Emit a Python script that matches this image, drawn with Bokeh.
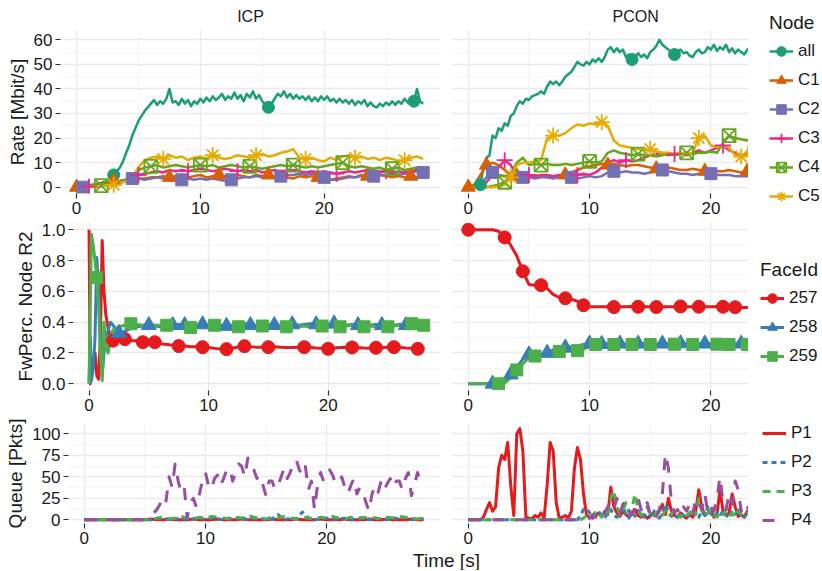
import numpy as np
from bokeh.plotting import figure
from bokeh.layouts import column, row
from bokeh.models import (Legend, LegendItem, SingleIntervalTicker,
                          NumeralTickFormatter, Label, Range1d)
from bokeh.embed import file_html
from bokeh.resources import INLINE
from bokeh.core.validation import silence
from bokeh.core.validation.warnings import MISSING_RENDERERS

silence(MISSING_RENDERERS, True)

FONT = "Liberation Sans"
TXT = "#1a1a1a"

# ---------------------------------------------------------------- data
facets = ["ICP", "PCON"]
nodes = ["all", "C1", "C2", "C3", "C4", "C5"]
faces = ["257", "258", "259"]
ports = ["P1", "P2", "P3", "P4"]

t_icp = np.arange(0, 28.01, 0.5)        # 57 samples
t_pcon = np.arange(0, 23.51, 0.5)       # 48 samples
t_icp_f = np.arange(0, 28.01, 0.25)     # 113 samples
t_pcon_f = np.arange(0, 23.51, 0.25)    # 95 samples

# Rate [Mbit/s] - ICP
rate_icp_all = [0, 0.1, 0.3, 0.5, 0.8, 1.0, 1.2, 1.5, 1.8, 2.2, 2.5, 3.5, 5,
                6.5, 8, 10.5, 14, 17, 21, 24, 27, 29, 31, 32.5,
                34, 35.5, 33.5, 35, 34, 36, 40, 34.5, 35, 33.5, 36, 34, 35.5, 33, 35, 34,
                36, 34.5, 36.5, 35, 37, 35.5, 36.5, 38, 35.5, 37, 36, 38.5, 36, 37.5, 35, 38,
                36.5, 39, 36, 37.5, 35, 33.5, 32.5, 34, 36, 38, 37, 39, 36.5, 38, 36, 37.5,
                36, 37, 35.5, 37, 35, 36.5, 35, 37, 35.5, 37, 35, 36, 34.5, 36, 34.5, 35.5,
                34, 35.5, 33.5, 35, 34, 35.5, 33, 34.5, 33, 32.5, 34, 33, 34.5, 33.5, 35, 33.5,
                35, 34, 36, 34.5, 36, 35, 40, 35, 34]
rate_icp_c1 = [0, 0.3, 0.5, 1, 1.5, 2, 2.5, 2.5, 3, 3, 3.5, 3.5, 4, 4, 4.5, 4, 4.5, 5, 4, 4.5,
               5, 4, 4.5, 5, 4.5, 4, 5, 4.5, 4, 5, 4.5, 5, 4, 4.5, 4, 3.5, 4.5, 4, 4.5, 4,
               3.5, 3, 3.5, 4, 4.5, 4, 5, 4.5, 4, 5, 4.5, 4, 4.5, 4, 4.5, 4, 4.5]
rate_icp_c2 = [0, 0, 0.2, 0.5, 1, 1.5, 2, 2.5, 3, 3.5, 3.5, 3, 3.5, 4, 3.5, 3, 3.5, 3, 3.5, 3,
               3.5, 3, 3.5, 3, 2.5, 3, 3.5, 4, 4, 4.5, 4, 4.5, 4, 4.5, 5, 5, 5.5, 5, 5.5, 5,
               4, 3, 3, 3.5, 4, 4, 4.5, 4, 4.5, 5, 5, 5.5, 5, 5.5, 6, 6.5, 6]
rate_icp_c3 = [0, 0, 0.2, 0.3, 0.5, 1, 1.5, 2, 3, 4, 5, 5.5, 6, 6.5, 6, 7, 6.5, 7, 6.5, 7,
               7.5, 7, 6.5, 7, 7.5, 7, 6.5, 7, 6.5, 7, 6, 6.5, 7, 6, 6.5, 7, 6.5, 6, 6.5, 6,
               6.5, 6, 5.5, 6, 6.5, 6, 6.5, 7, 6.5, 6, 6.5, 6, 6.5, 6, 6.5, 7, 6.5]
rate_icp_c4 = [0, 0, 0.2, 0.4, 0.6, 1, 1.5, 2, 3, 5, 7, 8, 8.5, 9, 8, 8.5, 9, 8.5, 8, 8.5,
               9, 8.5, 9, 8, 8.5, 9, 8.5, 8, 8.5, 8, 7.5, 8, 8.5, 9, 8.5, 9, 8.5, 8, 8.5, 8,
               8.5, 9, 9.5, 10, 8.5, 8, 8.5, 8, 7.5, 8, 7, 7.5, 8, 7, 7.5, 8, 7.5]
rate_icp_c5 = [0, 0, 0.2, 0.3, 0.5, 0.8, 1, 1.5, 2.5, 4, 8, 11, 12, 12.5, 11.5, 13, 12, 12.5, 11, 12,
               12.5, 11.5, 13, 12, 11.5, 12, 13, 12.5, 12, 13, 13.5, 12.5, 13, 14, 14.5, 15.5, 12, 11.5, 12, 11,
               10.5, 12, 11, 12.5, 13, 12, 12.5, 11.5, 12, 11, 12, 11.5, 10.5, 11, 12, 12.5, 11.5]

# Rate [Mbit/s] - PCON
rate_pcon_all = [0, 0.1, 0.3, 0.6, 1, 8, 12, 13, 21, 20, 24, 23, 26, 25, 29, 30, 33, 35, 34, 36,
                 35.5, 37, 37.5, 38, 39, 38, 41, 43, 42, 43, 41.5, 43, 45, 46, 47, 49, 51, 50, 49.5, 51,
                 50, 52, 51, 52.5, 51, 53, 56, 57, 55, 56.5, 55, 56, 53, 54, 52, 53, 54.5, 53, 54, 52.5,
                 55, 56, 57.5, 60, 58, 57, 56, 55, 54, 55.5, 56, 54.5, 55, 53.5, 53, 55, 56, 54.5, 55, 57,
                 56, 58, 55.5, 57, 56, 58, 55, 56.5, 54.5, 56, 55, 54, 56, 57, 59]
rate_pcon_c1 = [0, 1, 5, 9, 10, 9, 7, 5, 4.5, 5, 4.5, 4, 4.5, 4, 4.5, 4, 5, 6, 7, 8,
                8.5, 9, 9.5, 9, 9.5, 9, 8.5, 9, 9, 8.5, 8, 7.5, 7.5, 8, 7.5, 7, 7, 7.5, 7, 6.5,
                7, 6.5, 6.5, 7, 6.5, 6, 6.5, 6]
rate_pcon_c2 = [0, 0, 1, 4, 6, 5, 4.5, 4, 4, 4, 4, 3.5, 4, 4, 3.5, 4, 4, 4, 3.5, 4,
                4.5, 4, 4.5, 6, 6.5, 6, 6.5, 6, 6, 5.5, 6, 6.5, 7, 6.5, 6, 5.5, 5.5, 5, 5.5, 6,
                5.5, 5, 5, 5, 4.5, 4.5, 4.5, 4]
rate_pcon_c3 = [0, 0, 0.5, 2, 5, 8, 11, 9, 5, 4.5, 5, 4.5, 5, 5, 4.5, 5, 5, 4.5, 5, 5.5,
                5, 6, 8, 10, 11, 10, 11, 10.5, 11, 12, 13, 13.5, 14, 13, 13.5, 14, 13, 14, 15, 14,
                15, 16, 17, 15, 14, 13, 13.5, 12]
rate_pcon_c4 = [0, 0, 0, 0, 0.5, 1, 2, 5, 10, 12, 9, 9.5, 9, 9.5, 9, 9, 9.5, 9, 9.5, 10,
                10.5, 10, 10.5, 14, 15, 14, 13.5, 13, 13.5, 13, 13, 12.5, 13, 13.5, 13, 13.5, 14, 13.5, 14, 14,
                14.5, 14, 18, 21, 20, 19.5, 19, 19.5]
rate_pcon_c5 = [0, 0, 0, 0, 0, 0.5, 1, 4, 9, 10, 10, 10.5, 11, 20, 21, 21, 22, 24, 25.5, 25,
                26, 25.5, 26.5, 25, 19, 17, 16.5, 16, 15.5, 15, 15.5, 14.5, 14, 14, 13.5, 14, 13.5, 14, 20, 21,
                17, 16.5, 17, 16, 13, 12.5, 13, 28]

# marker times (s) for each node series
marks_icp = [[3, 15.5, 27.25],
             [0, 3, 7.5, 11.5, 15.5, 19.5, 23.5, 27],
             [0.5, 4.5, 8.5, 12.5, 16.5, 20, 24, 28],
             [1, 5, 9, 13, 17, 21, 25],
             [2, 6, 10, 14, 17.5, 21.5, 25.5],
             [3, 7, 11, 14.5, 18.5, 22.5, 26.5]]
marks_pcon = [[1, 13.5, 17],
              [0, 1.5, 4, 8, 11.5, 15.5, 19.5, 23],
              [2, 4.5, 8.5, 12, 16, 20],
              [3, 5, 9, 13, 17, 21],
              [3, 6, 10, 14, 18, 21.5],
              [3.5, 7, 11, 15, 19, 22.5]]

# FwPerc. Node R2
t_fw_icp = [0, 0.1, 0.2, 0.35, 0.5, 0.65, 0.8, 0.95, 1.1, 1.25, 1.4, 1.6, 1.8] + list(np.arange(2, 28.01, 0.5))
fw_icp_257 = [1.0, 0.0, 0.15, 0.1, 0.2, 0.05, 0.03, 0.3, 0.93, 0.6, 0.45, 0.36, 0.3,
              0.28, 0.3, 0.29, 0.28, 0.28, 0.27, 0.27, 0.27, 0.26, 0.255, 0.25, 0.245, 0.245, 0.24,
              0.24, 0.238, 0.235, 0.23, 0.225, 0.225, 0.23, 0.24, 0.244, 0.24, 0.238, 0.238, 0.238,
              0.24, 0.238, 0.235, 0.235, 0.238, 0.238, 0.235, 0.232, 0.23, 0.227, 0.232, 0.235, 0.238,
              0.236, 0.234, 0.232, 0.231, 0.234, 0.236, 0.238, 0.238, 0.236, 0.232, 0.23, 0.227, 0.227]
fw_icp_258 = [0.0, 0.3, 0.02, 0.1, 0.3, 0.82, 0.6, 0.3, 0.05, 0.2, 0.3, 0.35, 0.4,
              0.38, 0.33, 0.34, 0.36, 0.37, 0.375, 0.38, 0.375, 0.37, 0.38, 0.38, 0.385, 0.38, 0.375,
              0.38, 0.385, 0.38, 0.385, 0.38, 0.375, 0.38, 0.385, 0.39, 0.38, 0.375, 0.38, 0.385,
              0.38, 0.375, 0.38, 0.385, 0.38, 0.385, 0.39, 0.385, 0.38, 0.385, 0.39, 0.385, 0.38,
              0.385, 0.38, 0.375, 0.38, 0.385, 0.38, 0.375, 0.38, 0.385, 0.38, 0.38, 0.385, 0.38]
fw_icp_259 = [0.0, 0.5, 0.97, 0.9, 0.8, 0.69, 0.5, 0.2, 0.02, 0.4, 0.25, 0.2, 0.3,
              0.35, 0.37, 0.38, 0.39, 0.385, 0.38, 0.375, 0.38, 0.38, 0.38, 0.375, 0.37, 0.37, 0.365,
              0.37, 0.375, 0.38, 0.38, 0.38, 0.375, 0.37, 0.37, 0.375, 0.38, 0.38, 0.375, 0.37,
              0.365, 0.36, 0.37, 0.375, 0.37, 0.375, 0.37, 0.37, 0.375, 0.37, 0.37, 0.37, 0.375,
              0.38, 0.375, 0.37, 0.375, 0.37, 0.37, 0.37, 0.375, 0.38, 0.385, 0.39, 0.385, 0.38]
fw_pcon_257 = [1.0, 1.0, 1.0, 1.0, 1.0, 0.99, 0.95, 0.9, 0.83, 0.73, 0.645, 0.64, 0.64, 0.62, 0.58,
               0.56, 0.555, 0.55, 0.535, 0.51, 0.5, 0.5, 0.5, 0.5, 0.498, 0.5, 0.5, 0.502, 0.5, 0.5,
               0.5, 0.498, 0.5, 0.5, 0.5, 0.502, 0.5, 0.5, 0.5, 0.5, 0.5, 0.502, 0.5, 0.498, 0.497,
               0.495, 0.495, 0.495]
fw_pcon_258 = [0, 0, 0, 0, 0, 0.005, 0.02, 0.06, 0.11, 0.16, 0.19, 0.19, 0.19, 0.2, 0.22,
               0.23, 0.235, 0.24, 0.245, 0.255, 0.26, 0.26, 0.258, 0.26, 0.262, 0.26, 0.258, 0.26, 0.26, 0.262,
               0.26, 0.258, 0.26, 0.26, 0.26, 0.262, 0.26, 0.258, 0.26, 0.26, 0.26, 0.258, 0.26, 0.262, 0.26,
               0.26, 0.26, 0.26]
fw_pcon_259 = [0, 0, 0, 0, 0, 0, 0.005, 0.04, 0.09, 0.13, 0.17, 0.18, 0.185, 0.19, 0.205,
               0.21, 0.212, 0.215, 0.215, 0.225, 0.245, 0.255, 0.255, 0.257, 0.255, 0.253, 0.255, 0.255, 0.257, 0.255,
               0.255, 0.253, 0.255, 0.255, 0.257, 0.255, 0.255, 0.255, 0.253, 0.255, 0.255, 0.257, 0.255, 0.255, 0.255,
               0.255, 0.255, 0.255]
fw_marks_icp = [[2, 3, 4.5, 5.5, 7.5, 9.5, 11.5, 13, 15, 18, 20, 22, 24, 25.5, 27.5],
                [2.5, 5, 7, 8, 9.5, 11.5, 13.5, 15.5, 17, 19, 20.5, 22.5, 24.5, 26.5],
                [0.65, 3.5, 6.5, 8.5, 10.5, 12.5, 14.5, 16.5, 19.5, 21, 23, 25, 27, 28]]
fw_marks_pcon = [[0, 3, 4.5, 6, 8, 9.5, 12, 14, 15.5, 17.5, 19, 21, 22],
                 [2, 3.5, 5, 6.5, 8, 10, 11, 12.5, 14, 16, 17.5, 19.5, 22.5],
                 [2.5, 4, 5.5, 7.5, 9, 10.5, 12, 13.5, 15, 17, 18.5, 20.5, 21.5, 23]]

# Queue [Pkts]
q_icp_p1 = [0, 0, 0, 0, 0, 0, 0, 0, 0, 0, 0, 1, 0, 0, 1, 0, 0, 0, 1, 0,
            0, 0, 1, 0, 0, 0, 1, 0, 0, 0, 0, 1, 0, 0, 0, 1, 0, 0, 0, 1,
            0, 0, 0, 1, 0, 0, 0, 1, 0, 0, 1, 0, 0, 0, 1, 0, 0]
q_icp_p2 = [0, 0, 0, 0, 0, 0, 0, 0, 0, 0, 0, 0, 1, 2, 0, 1, 2, 0, 1, 3,
            0, 2, 1, 0, 2, 1, 3, 0, 1, 2, 0, 1, 6, 0, 2, 1, 9, 2, 0, 1,
            2, 0, 1, 2, 0, 1, 3, 0, 2, 1, 0, 2, 1, 3, 0, 2, 1]
q_icp_p3 = [0, 0, 0, 0, 0, 0, 0, 0, 0, 0, 0, 0, 2, 3, 1, 2, 4, 2, 1, 3,
            2, 4, 3, 2, 1, 3, 2, 5, 3, 2, 1, 3, 2, 4, 2, 1, 3, 2, 1, 3,
            2, 4, 2, 1, 3, 2, 2, 4, 2, 1, 3, 2, 4, 3, 2, 1, 2]
q_icp_p4 = [0, 0, 0, 0, 0, 0, 0, 0, 0, 0, 0, 0, 0, 0, 0, 0, 0, 0, 0, 0,
            1, 2, 5, 8, 12, 18, 28, 22, 50, 38, 65, 45, 32, 38, 2, 20, 25, 15, 30, 45,
            55, 40, 35, 48, 52, 40, 48, 58, 60, 45, 55, 65, 62, 50, 72, 60, 58, 48, 52, 40,
            28, 45, 45, 35, 40, 50, 60, 48, 55, 65, 70, 58, 52, 62, 35, 45, 12, 40, 55, 45,
            50, 58, 52, 42, 42, 50, 38, 30, 40, 48, 30, 38, 32, 20, 10, 30, 40, 32, 45, 35,
            42, 48, 38, 45, 45, 35, 48, 55, 28, 40, 55, 45, 45]
q_pcon_p1 = [0, 0, 0, 0, 0, 3, 12, 20, 10, 15, 60, 75, 70, 90, 40, 5, 100, 106, 80, 3,
             2, 1, 5, 3, 8, 2, 40, 90, 80, 20, 2, 3, 5, 2, 10, 60, 84, 70, 30, 5,
             3, 2, 5, 8, 4, 10, 6, 38, 15, 8, 4, 10, 6, 3, 8, 12, 5, 3, 6, 2,
             4, 8, 5, 10, 18, 6, 25, 10, 5, 3, 8, 4, 2, 6, 3, 10, 35, 15, 5, 8,
             12, 3, 6, 35, 10, 5, 8, 30, 15, 4, 6, 3, 10, 5, 8]
q_pcon_p2 = [0, 0, 0, 0, 0, 0, 0, 0, 0, 0, 0, 0, 0, 0, 0, 0, 0, 0, 0, 0,
             0, 0, 0, 0, 0, 0, 0, 0, 0, 0, 0, 0, 0, 0, 0, 0, 0,
             5, 12, 13, 8, 3, 6, 10, 4, 2, 8, 12, 5, 3, 7, 15, 6, 2, 9, 4, 11,
             6, 3, 8, 5, 12, 4, 2, 7, 18, 10, 4, 6, 3, 9, 5, 2, 8, 12, 6, 3,
             10, 5, 15, 7, 3, 8, 4, 11, 6, 2, 9, 5, 14, 6, 3, 8, 20, 10]
q_pcon_p3 = [0, 0, 0, 0, 0, 0, 0, 0, 0, 0, 0, 0, 0, 0, 0, 0, 0, 0, 0, 0,
             0, 0, 0, 0, 0, 0, 0, 0, 0, 0, 0, 0, 0, 0, 0, 0, 0, 0,
             2, 5, 8, 4, 10, 6, 3, 12, 8, 25, 34, 15, 6, 10, 20, 8, 14, 30, 12, 5,
             9, 15, 6, 3, 8, 12, 5, 10, 4, 7, 12, 6, 3, 9, 5, 8, 14, 6, 25, 10,
             4, 8, 12, 5, 3, 9, 6, 12, 4, 8, 3, 10, 6, 4, 8, 5, 3]
q_pcon_p4 = [0, 0, 0, 0, 0, 0, 0, 0, 0, 0, 0, 0, 0, 0, 0, 0, 0, 0, 0, 0,
             0, 0, 0, 0, 0, 0, 0, 0, 0, 0, 0, 0, 0, 0, 0, 0, 0, 0, 0, 0,
             2, 6, 3, 10, 5, 8, 15, 20, 12, 25, 8, 18, 22, 10, 6, 15, 25, 12, 8, 20,
             6, 10, 4, 12, 30, 77, 60, 20, 8, 12, 5, 15, 10, 18, 6, 25, 20, 12, 30, 8,
             15, 10, 25, 50, 20, 12, 30, 18, 45, 35, 10, 20, 15, 8, 12]

assert len(rate_icp_all) == len(t_icp_f), len(rate_icp_all)
assert len(q_icp_p4) == len(t_icp_f), len(q_icp_p4)
assert len(rate_pcon_all) == len(t_pcon_f), len(rate_pcon_all)
for arr in [rate_icp_c1, rate_icp_c2, rate_icp_c3, rate_icp_c4, rate_icp_c5, q_icp_p1, q_icp_p2, q_icp_p3]:
    assert len(arr) == len(t_icp), len(arr)
for arr in [rate_pcon_c1, rate_pcon_c2, rate_pcon_c3, rate_pcon_c4, rate_pcon_c5,
            fw_pcon_257, fw_pcon_258, fw_pcon_259]:
    assert len(arr) == len(t_pcon), len(arr)
for arr in [fw_icp_257, fw_icp_258, fw_icp_259]:
    assert len(arr) == len(t_fw_icp), len(arr)
for arr in [q_pcon_p1, q_pcon_p2, q_pcon_p3, q_pcon_p4]:
    assert len(arr) == len(t_pcon_f), len(arr)

# ---------------------------------------------------------------- style
node_colors = ["#1B9E77", "#D95F02", "#7570B3", "#E7298A", "#66A61E", "#E6AB02"]
node_markers = ["circle", "triangle", "square", "cross", "square_x", "asterisk"]
node_sizes = [12, 14, 12, 16, 13, 16]
set1 = ["#E41A1C", "#377EB8", "#4DAF4A", "#984EA3"]
face_markers = ["circle", "triangle", "square"]
face_sizes = [13, 15, 12]
port_dashes = ["solid", "5 4", "8 6", "12 12"]
HOLLOW = ("cross", "square_x", "asterisk")

X_ICP = (-1.3, 29.4)
X_PCON = (-1.3, 23.1)


def base_fig(width, height, xr, yr, left, right, top, bottom):
    p = figure(width=width, height=height, x_range=Range1d(*xr), y_range=Range1d(*yr),
               output_backend="svg", toolbar_location=None,
               min_border_left=left, min_border_right=right,
               min_border_top=top, min_border_bottom=bottom)
    p.outline_line_color = None
    p.border_fill_color = "white"
    p.background_fill_color = "white"
    return p


def style(p, yint, ylabel=None, yfmt=None):
    xt = SingleIntervalTicker(interval=10, num_minor_ticks=2)
    yt = SingleIntervalTicker(interval=yint, num_minor_ticks=2)
    p.xaxis.ticker = xt
    p.xgrid.ticker = xt
    p.yaxis.ticker = yt
    p.ygrid.ticker = yt
    for ax in list(p.xaxis) + list(p.yaxis):
        ax.axis_line_color = None
        ax.major_tick_line_color = "#333333"
        ax.major_tick_line_width = 1.2
        ax.major_tick_out = 5
        ax.major_tick_in = 0
        ax.minor_tick_line_color = None
        ax.major_label_text_font = FONT
        ax.major_label_text_font_size = "17px"
        ax.major_label_text_color = TXT
        ax.major_label_standoff = 3
    for g in list(p.xgrid) + list(p.ygrid):
        g.grid_line_color = "#EBEBEB"
        g.grid_line_width = 1.3
        g.minor_grid_line_color = "#F4F4F4"
        g.minor_grid_line_width = 0.8
    if yfmt is not None:
        p.yaxis.formatter = yfmt
    if ylabel:
        p.yaxis.axis_label = ylabel
        p.yaxis.axis_label_text_font = FONT
        p.yaxis.axis_label_text_font_size = "19px"
        p.yaxis.axis_label_text_font_style = "normal"
        p.yaxis.axis_label_text_color = TXT
        p.yaxis.axis_label_standoff = 3
    else:
        p.yaxis.visible = False


def facet_title(p, text, align, offset=0):
    p.title.text = text
    p.title.align = align
    p.title.offset = offset
    p.title.text_font = FONT
    p.title.text_font_size = "16px"
    p.title.text_font_style = "normal"
    p.title.text_color = TXT
    p.title.standoff = 11


def draw_marked(p, ts, ys, marks, colors, markers, sizes, lw, visible=True):
    lines, scats = [], []
    for t, y, c in zip(ts, ys, colors):
        lines.append(p.line(np.asarray(t, dtype=float), y, line_color=c, line_width=lw,
                            line_join="round", visible=visible))
    for t, y, mk, c, m, s in zip(ts, ys, marks, colors, markers, sizes):
        tt = np.asarray(t, dtype=float)
        yy = np.asarray(y, dtype=float)
        idx = [int(np.argmin(np.abs(tt - v))) for v in mk]
        hollow = m in HOLLOW
        scats.append(p.scatter(tt[idx], yy[idx], marker=m, size=s, line_color=c,
                               fill_color=None if hollow else c,
                               line_width=1.8 if hollow else 1, visible=visible))
    return lines, scats


def make_legend(items, loc, title=None):
    lg = Legend(items=items, location=loc)
    lg.padding = 0
    lg.margin = 0
    lg.border_line_color = None
    lg.background_fill_alpha = 0
    lg.inactive_fill_alpha = 0
    lg.glyph_width = 24
    lg.glyph_height = 26
    lg.label_height = 26
    lg.spacing = 3
    lg.label_standoff = 5
    lg.label_text_font = FONT
    lg.label_text_font_size = "17px"
    lg.label_text_color = TXT
    if title:
        lg.title = title
        lg.title_text_font = FONT
        lg.title_text_font_size = "19px"
        lg.title_text_font_style = "normal"
        lg.title_text_color = TXT
        lg.title_standoff = 4
    return lg


rate_icp = [rate_icp_all, rate_icp_c1, rate_icp_c2, rate_icp_c3, rate_icp_c4, rate_icp_c5]
rate_pcon = [rate_pcon_all, rate_pcon_c1, rate_pcon_c2, rate_pcon_c3, rate_pcon_c4, rate_pcon_c5]
t_rate_icp = [t_icp_f, t_icp, t_icp, t_icp, t_icp, t_icp]
t_rate_pcon = [t_pcon_f, t_pcon, t_pcon, t_pcon, t_pcon, t_pcon]
fw_icp = [fw_icp_257, fw_icp_258, fw_icp_259]
fw_pcon = [fw_pcon_257, fw_pcon_258, fw_pcon_259]
q_icp = [q_icp_p1, q_icp_p2, q_icp_p3, q_icp_p4]
t_q_icp = [t_icp, t_icp, t_icp, t_icp_f]
q_pcon = [q_pcon_p1, q_pcon_p2, q_pcon_p3, q_pcon_p4]

# ---------------------------------------------------------------- row 1: Rate
r1a = base_fig(444, 222, X_ICP, (-2.57, 63.79), 60, 4, 30, 29)
style(r1a, 10, "Rate [Mbit/s]")
facet_title(r1a, facets[0], "center")
draw_marked(r1a, t_rate_icp, rate_icp, marks_icp, node_colors, node_markers, node_sizes, 2.5)

r1b = base_fig(304, 222, X_PCON, (-2.57, 63.79), 8, 0, 30, 29)
style(r1b, 10)
facet_title(r1b, facets[1], "left", 160)
draw_marked(r1b, t_rate_pcon, rate_pcon, marks_pcon, node_colors, node_markers, node_sizes, 2.5)

# ---------------------------------------------------------------- row 2: FwPerc
r2a = base_fig(444, 195, X_ICP, (-0.0435, 1.047), 73, 4, 0, 27)
style(r2a, 0.2, "FwPerc. Node R2", NumeralTickFormatter(format="0.0"))
draw_marked(r2a, [t_fw_icp] * 3, fw_icp, fw_marks_icp, set1[:3], face_markers, face_sizes, 3)

r2b = base_fig(304, 195, X_PCON, (-0.0435, 1.047), 8, 0, 0, 27)
style(r2b, 0.2)
draw_marked(r2b, [t_pcon] * 3, fw_pcon, fw_marks_pcon, set1[:3], face_markers, face_sizes, 3)

# ---------------------------------------------------------------- row 3: Queue
r3a = base_fig(444, 133, X_ICP, (-4.3, 112), 68, 4, 6, 27)
style(r3a, 25, "Queue [Pkts]")
for t, y, c, d in zip(t_q_icp, q_icp, set1, port_dashes):
    r3a.line(t, y, line_color=c, line_width=3, line_dash=d, line_join="round")

r3b = base_fig(304, 133, X_PCON, (-4.3, 112), 8, 0, 6, 27)
style(r3b, 25)
for y, c, d in zip(q_pcon, set1, port_dashes):
    r3b.line(t_pcon_f, y, line_color=c, line_width=3, line_dash=d, line_join="round")

# ---------------------------------------------------------------- shared x title
tf = figure(width=748, height=20, x_range=Range1d(0, 748), y_range=Range1d(0, 20),
            output_backend="svg", toolbar_location=None, x_axis_type=None, y_axis_type=None,
            min_border=0)
tf.outline_line_color = None
tf.add_layout(Label(x=446, y=10, text="Time [s]", text_align="center", text_baseline="alphabetic",
                    text_font=FONT, text_font_size="19px", text_color=TXT))

# ---------------------------------------------------------------- legend column
# hidden copies of the PCON series supply the legend keys
lf = figure(width=72, height=570, x_range=Range1d(*X_PCON), y_range=Range1d(0, 1),
            output_backend="svg", toolbar_location=None, x_axis_type=None, y_axis_type=None,
            min_border=0)
lf.outline_line_color = None
lf.border_fill_color = "white"
lf.background_fill_color = "white"
ln1, sc1 = draw_marked(lf, t_rate_pcon, rate_pcon, marks_pcon, node_colors, node_markers,
                       node_sizes, 2.5, visible=False)
ln2, sc2 = draw_marked(lf, [t_pcon] * 3, fw_pcon, fw_marks_pcon, set1[:3], face_markers,
                       face_sizes, 3, visible=False)
ln3 = [lf.line(t_pcon_f, y, line_color=c, line_width=3, line_dash=d, visible=False)
       for y, c, d in zip(q_pcon, set1, port_dashes)]

lf.add_layout(make_legend([LegendItem(label=n, renderers=[l, s]) for n, l, s in zip(nodes, ln1, sc1)],
                          (21, 361), "Node"))
lf.add_layout(make_legend([LegendItem(label=n, renderers=[l, s]) for n, l, s in zip(faces, ln2, sc2)],
                          (12, 201), "FaceId"))
lf.add_layout(make_legend([LegendItem(label=n, renderers=[l]) for n, l in zip(ports, ln3)],
                          (14, 37)))

panels = column(row(r1a, r1b), row(r2a, r2b), row(r3a, r3b), tf, spacing=0)
layout = row(panels, lf, spacing=0)

open("out.html", "w").write(file_html(layout, INLINE))
